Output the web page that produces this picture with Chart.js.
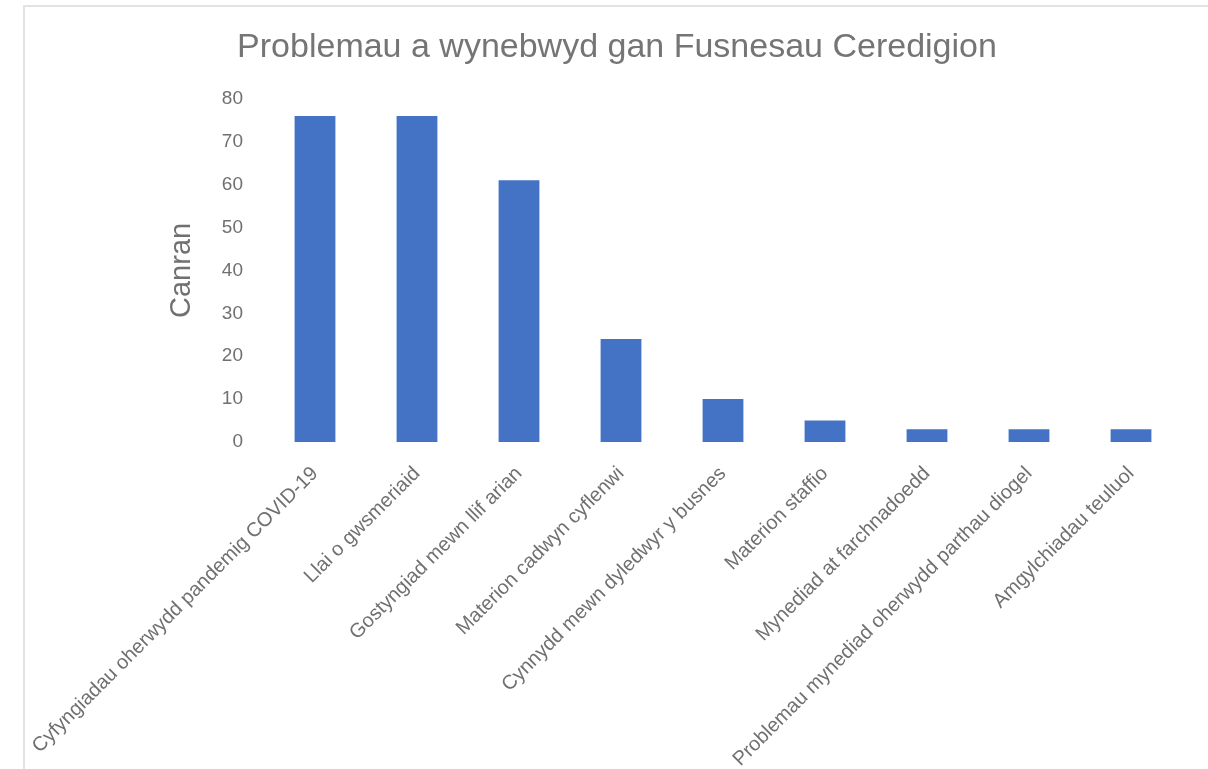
<!DOCTYPE html>
<html>
<head>
<meta charset="utf-8">
<script src="https://cdn.jsdelivr.net/npm/chart.js"></script>
<style>
  body { margin: 0; background: #fff; }
  #wrap { position: relative; width: 1208px; height: 769px; overflow: hidden; }
  #frame { position: absolute; left: 23px; top: 5px; width: 1300px; height: 900px;
           border-left: 2px solid #e3e3e3; border-top: 2px solid #e3e3e3; pointer-events: none; }
  canvas { position: absolute; left: 0; top: 0; }
</style>
</head>
<body>
<div id="wrap">
  <canvas id="bar" width="1208" height="769"></canvas>
  <div id="frame"></div>
</div>
<script>
// categories and percentages
let problems = [
  'Cyfyngiadau oherwydd pandemig COVID-19',
  'Llai o gwsmeriaid',
  'Gostyngiad mewn llif arian',
  'Materion cadwyn cyflenwi',
  'Cynnydd mewn dyledwyr y busnes',
  'Materion staffio',
  'Mynediad at farchnadoedd',
  'Problemau mynediad oherwydd parthau diogel',
  'Amgylchiadau teuluol'
]
let percentages = [76, 76, 61, 24, 10, 5, 3, 3, 3]
let yTicks = [0, 10, 20, 30, 40, 50, 60, 70, 80]

let grey = '#707070'
let font = 'Liberation Sans, Arial, sans-serif'

let chart1 = document.getElementById('bar')
let businessChart = new Chart(chart1, {
  type: 'bar',
  data: {
    labels: problems,
    datasets: [{
      label: 'Canran',
      data: percentages,
      backgroundColor: '#4472C4',
      borderWidth: 0,
      barPercentage: 0.4,
      categoryPercentage: 1
    }]
  },
  options: {
    responsive: false,
    animation: false,
    layout: { padding: { left: 52, right: 26, top: 0, bottom: 0 } },
    plugins: {
      legend: { display: false },
      tooltip: { enabled: false },
      title: {
        display: true,
        text: 'Problemau a wynebwyd gan Fusnesau Ceredigion',
        color: '#757575',
        font: { family: font, size: 34, weight: 'normal' },
        padding: { top: 27, bottom: 31 }
      }
    },
    scales: {
      x: {
        grid: { display: false },
        border: { display: false },
        ticks: {
          color: grey,
          font: { family: font, size: 20 },
          minRotation: 45,
          maxRotation: 45,
          autoSkip: false,
          padding: 12
        },
        afterFit: function (scale) { scale.height = 327 }
      },
      y: {
        min: 0,
        max: 80,
        afterBuildTicks: function (scale) {
          scale.ticks = yTicks.map(v => ({ value: v }))
        },
        grid: { display: false, drawTicks: false },
        border: { display: false },
        ticks: {
          color: grey,
          font: { family: font, size: 19 },
          padding: 21
        },
        title: {
          display: true,
          text: 'Canran',
          color: grey,
          font: { family: font, size: 29 },
          padding: { top: 113, bottom: 0 }
        },
        afterFit: function (scale) { scale.width = 212 }
      }
    }
  }
});
</script>
</body>
</html>
